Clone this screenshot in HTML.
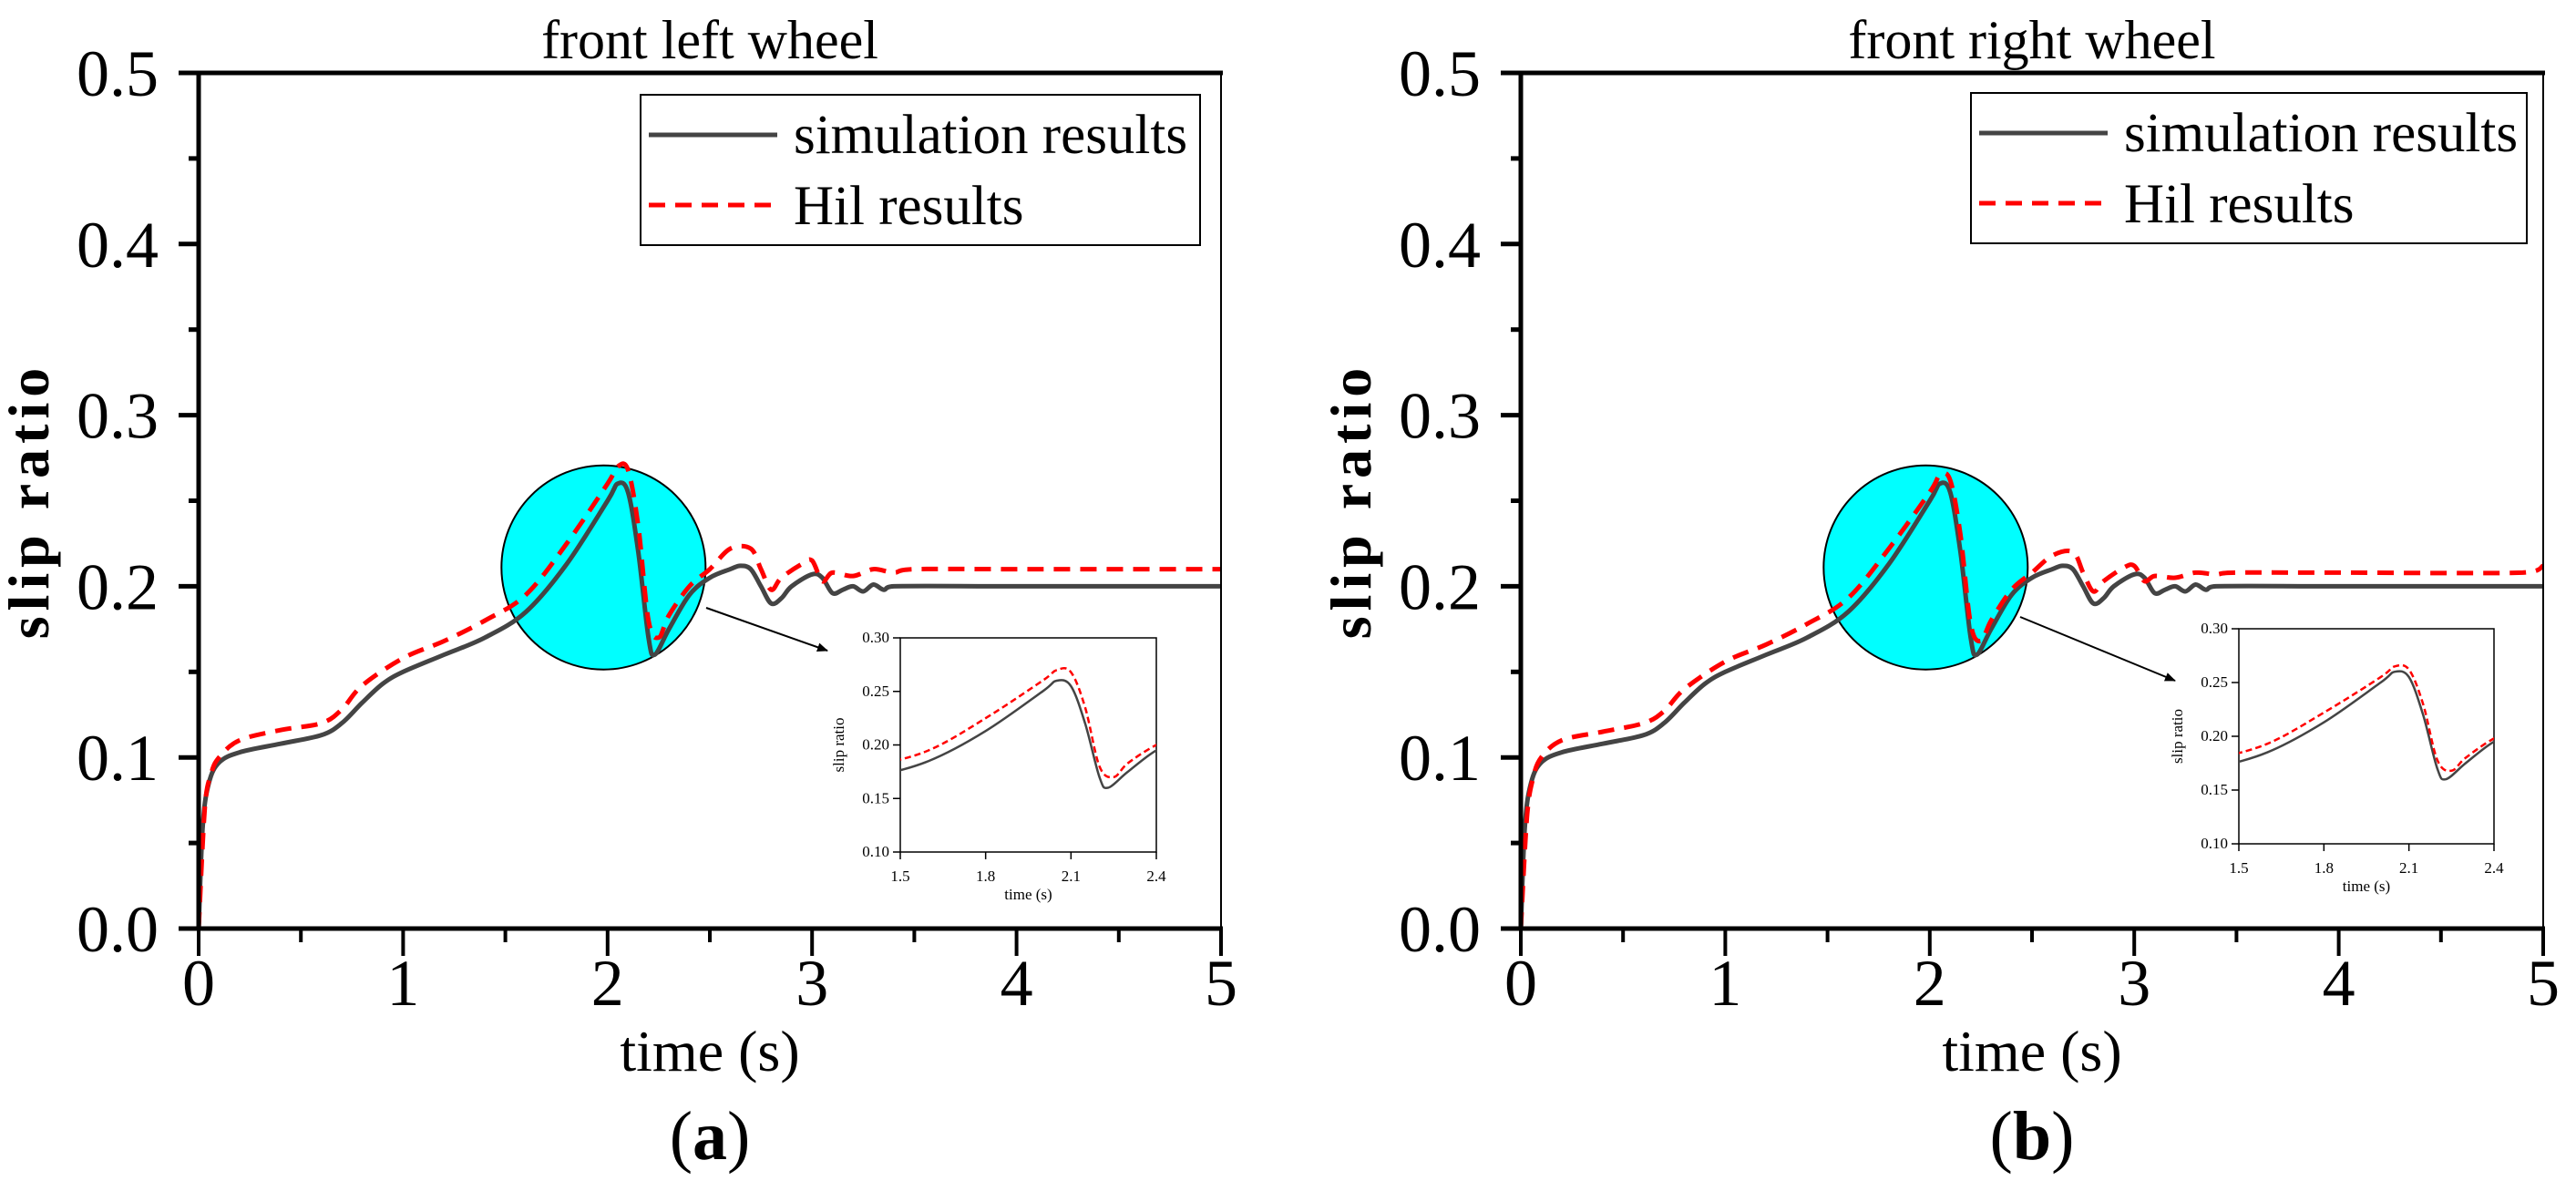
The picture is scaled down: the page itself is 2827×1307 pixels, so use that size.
<!DOCTYPE html>
<html><head><meta charset="utf-8"><style>
html,body{margin:0;padding:0;background:#fff;}
svg{display:block;font-family:"Liberation Serif",serif;}
</style></head><body>
<svg id="fig" width="2827" height="1307" viewBox="0 0 2827 1307" xmlns="http://www.w3.org/2000/svg"></svg>
<script>
const yTicks=[0,0.1,0.2,0.3,0.4,0.5];
const xTicks=[0,1,2,3,4,5];
const insetXTicks=[1.5,1.8,2.1,2.4];
const insetYTicks=[0.10,0.15,0.20,0.25,0.30];
const simTA=[0,0.02,0.05,0.1,0.2,0.4,0.6,0.7,0.8,0.9,1.0,1.2,1.4,1.6,1.8,2.0,2.05,2.1,2.15,2.2,2.23,2.3,2.4,2.5,2.6,2.65,2.7,2.75,2.8,2.85,2.9,3.0,3.05,3.1,3.15,3.2,3.25,3.3,3.35,3.4,4,5];
const simVA=[0,0.06,0.085,0.097,0.103,0.108,0.113,0.12,0.132,0.143,0.15,0.16,0.17,0.185,0.213,0.25,0.26,0.255,0.22,0.17,0.16,0.175,0.195,0.205,0.21,0.212,0.21,0.2,0.19,0.193,0.2,0.207,0.205,0.196,0.198,0.2,0.197,0.201,0.198,0.2,0.2,0.2];
const hilTA=[0,0.03,0.06,0.1,0.2,0.4,0.6,0.7,0.8,1.0,1.2,1.4,1.6,1.8,2.0,2.05,2.1,2.15,2.2,2.25,2.3,2.4,2.5,2.6,2.7,2.75,2.8,2.85,2.95,3.0,3.05,3.1,3.2,3.3,3.4,3.5,4,5];
const hilVA=[0,0.07,0.09,0.1,0.11,0.116,0.12,0.128,0.142,0.158,0.168,0.18,0.195,0.225,0.26,0.27,0.268,0.235,0.18,0.17,0.183,0.2,0.21,0.222,0.222,0.21,0.198,0.205,0.213,0.215,0.203,0.208,0.206,0.21,0.208,0.21,0.21,0.21];
const simTB=simTA;
const simVB=simVA;
const hilTB=[0,0.03,0.06,0.1,0.2,0.4,0.6,0.7,0.8,1.0,1.2,1.4,1.6,1.8,2.0,2.05,2.1,2.15,2.2,2.25,2.3,2.4,2.5,2.6,2.7,2.75,2.8,2.85,2.95,3.0,3.05,3.1,3.2,3.3,3.4,3.5,4,4.9,5];
const hilVB=[0,0.065,0.088,0.1,0.11,0.115,0.12,0.127,0.14,0.156,0.166,0.178,0.193,0.222,0.255,0.265,0.262,0.23,0.178,0.168,0.18,0.198,0.208,0.218,0.22,0.208,0.197,0.203,0.211,0.212,0.203,0.206,0.205,0.208,0.207,0.208,0.208,0.208,0.212];

const NS="http://www.w3.org/2000/svg";
const svg=document.getElementById('fig');
function el(tag,attrs,parent,text){const e=document.createElementNS(NS,tag);for(const k in attrs)e.setAttribute(k,attrs[k]);if(text!==undefined)e.textContent=text;(parent||svg).appendChild(e);return e;}

function path(ts,vs,fx,fy){
  const p=ts.map((t,i)=>[fx(t),fy(vs[i])]);
  let d='M'+p[0][0].toFixed(1)+','+p[0][1].toFixed(1);
  for(let i=0;i<p.length-1;i++){
    const p0=p[Math.max(0,i-1)],p1=p[i],p2=p[i+1],p3=p[Math.min(p.length-1,i+2)];
    const k=1/6;
    const c1=[p1[0]+(p2[0]-p0[0])*k,p1[1]+(p2[1]-p0[1])*k];
    const c2=[p2[0]-(p3[0]-p1[0])*k,p2[1]-(p3[1]-p1[1])*k];
    c1[0]=Math.min(Math.max(c1[0],p1[0]),p2[0]);c2[0]=Math.min(Math.max(c2[0],p1[0]),p2[0]);
    d+=' C'+c1[0].toFixed(1)+','+c1[1].toFixed(1)+' '+c2[0].toFixed(1)+','+c2[1].toFixed(1)+' '+p2[0].toFixed(1)+','+p2[1].toFixed(1);
  }
  return d;
}

function panel(id,L,R,T,B,title,letter,simT,simV,hilT,hilV,leg,inset,arrow){
  const g=el('g',{});
  
  
  const sx=t=>L+(t-0)/5*(R-L);
  const sy=v=>B-(v-0)/0.5*(B-T);
  const cid='clip'+id;
  const cp=el('clipPath',{id:cid},g);el('rect',{x:L,y:T,width:R-L,height:B-T},cp);
  const c=el('circle',{cx:sx(1.98),cy:sy(0.211),r:112,fill:'#00ffff',stroke:'#000','stroke-width':2},g);
  
  
  const sl=el('path',{d:path(simT,simV,sx,sy),fill:'none',stroke:'#444','stroke-width':5,'stroke-linejoin':'round','clip-path':'url(#'+cid+')'},g);
  
  
  const hl=el('path',{d:path(hilT,hilV,sx,sy),fill:'none',stroke:'#ff0000','stroke-width':5,'stroke-dasharray':'18,11','clip-path':'url(#'+cid+')'},g);
  
  
  const fr=el('rect',{x:L,y:T,width:R-L,height:B-T,fill:'none',stroke:'#000','stroke-width':2},g);
  
  
  el('line',{x1:L,y1:T,x2:L,y2:B+2,stroke:'#000','stroke-width':5},g);
  el('line',{x1:L-22,y1:B,x2:R+2,y2:B,stroke:'#000','stroke-width':5},g);
  el('line',{x1:L-22,y1:T,x2:R+2,y2:T,stroke:'#000','stroke-width':5},g);
  yTicks.forEach(v=>{
    el('line',{x1:L-22,y1:sy(v),x2:L,y2:sy(v),stroke:'#000','stroke-width':5},g);
    const t=el('text',{x:L-44,y:sy(v)+25,'font-size':72,'text-anchor':'end'},g,v.toFixed(1));
    
    
  });
  for(let v=0.05;v<0.5;v+=0.1){el('line',{x1:L-11,y1:sy(v),x2:L,y2:sy(v),stroke:'#000','stroke-width':5},g);}
  xTicks.forEach(v=>{
    el('line',{x1:sx(v),y1:B,x2:sx(v),y2:B+30,stroke:'#000','stroke-width':4},g);
    const t=el('text',{x:sx(v),y:1103,'font-size':72,'text-anchor':'middle'},g,String(v));
    
    
  });
  for(let v=0.5;v<5;v+=1){el('line',{x1:sx(v),y1:B,x2:sx(v),y2:B+15,stroke:'#000','stroke-width':4},g);}
  const tt=el('text',{x:(L+R)/2,y:64,'font-size':60,'text-anchor':'middle'},g,title);
  
  
  const xt=el('text',{x:(L+R)/2,y:1175,'font-size':64,'text-anchor':'middle'},g,'time (s)');
  
  
  const yt=el('text',{x:L-165,y:(T+B)/2,'font-size':64,'font-weight':'bold','letter-spacing':6,'text-anchor':'middle',transform:'rotate(-90 '+(L-165)+' '+((T+B)/2)+')'},g,'slip ratio');
  
  
  const lt=el('text',{x:(L+R)/2,y:1272,'font-size':76,'text-anchor':'middle'},g);
  
  
  el('tspan',{},lt,'(');el('tspan',{'font-weight':'bold'},lt,letter);el('tspan',{},lt,')');
  const lg=el('g',{},g);
  
  
  el('rect',{x:leg[0],y:leg[1],width:leg[2],height:leg[3],fill:'#fff',stroke:'#000','stroke-width':2},lg);
  el('line',{x1:leg[0]+9,y1:leg[1]+44,x2:leg[0]+150,y2:leg[1]+44,stroke:'#444','stroke-width':5},lg);
  const l1=el('text',{x:leg[0]+168,y:leg[1]+64,'font-size':61},lg,'simulation results');
  
  
  el('line',{x1:leg[0]+9,y1:leg[1]+121,x2:leg[0]+150,y2:leg[1]+121,stroke:'#f00','stroke-width':5,'stroke-dasharray':'18,11'},lg);
  const l2=el('text',{x:leg[0]+168,y:leg[1]+142,'font-size':61},lg,'Hil results');
  
  
  const ar=el('line',{x1:arrow[0],y1:arrow[1],x2:arrow[2],y2:arrow[3],stroke:'#000','stroke-width':2,'marker-end':'url(#arr)'},g);
  
  
  const [iL,iT,iR,iB]=inset;
  const ig=el('g',{},g);
  
  
  const ix=t=>iL+(t-1.5)/0.9*(iR-iL);
  const iy=v=>iB-(v-0.1)/0.2*(iB-iT);
  const icid='iclip'+id;
  const icp=el('clipPath',{id:icid},ig);el('rect',{x:iL,y:iT,width:iR-iL,height:iB-iT},icp);
  el('rect',{x:iL,y:iT,width:iR-iL,height:iB-iT,fill:'#fff',stroke:'#000','stroke-width':1.5},ig);
  el('path',{d:path(simT,simV,ix,iy),fill:'none',stroke:'#444','stroke-width':2.5,'clip-path':'url(#'+icid+')'},ig);
  el('path',{d:path(hilT,hilV,ix,iy),fill:'none',stroke:'#f00','stroke-width':2.5,'stroke-dasharray':'7,4','clip-path':'url(#'+icid+')'},ig);
  insetXTicks.forEach(v=>{el('line',{x1:ix(v),y1:iB,x2:ix(v),y2:iB+8,stroke:'#000','stroke-width':1.5},ig);
    el('text',{x:ix(v),y:iB+32,'font-size':17,'text-anchor':'middle'},ig,v.toFixed(1));});
  insetYTicks.forEach(v=>{el('line',{x1:iL-8,y1:iy(v),x2:iL,y2:iy(v),stroke:'#000','stroke-width':1.5},ig);
    el('text',{x:iL-12,y:iy(v)+5,'font-size':17,'text-anchor':'end'},ig,v.toFixed(2));});
  el('text',{x:(iL+iR)/2,y:iB+52,'font-size':17,'text-anchor':'middle'},ig,'time (s)');
  el('text',{x:iL-62,y:(iT+iB)/2,'font-size':17,'text-anchor':'middle',transform:'rotate(-90 '+(iL-62)+' '+((iT+iB)/2)+')'},ig,'slip ratio');
}
const defs=el('defs',{});
const mk=el('marker',{id:'arr',markerWidth:12,markerHeight:12,refX:11,refY:6,orient:'auto',markerUnits:'userSpaceOnUse'},defs);
el('path',{d:'M0,1 L12,6 L0,11 z',fill:'#000'},mk);
panel('a',218,1340,80,1019,'front left wheel','a',simTA,simVA,hilTA,hilVA,[703,104,614,165],[988,700,1269,935],[775,667,908,714]);
panel('b',1669,2791,80,1019,'front right wheel','b',simTB,simVB,hilTB,hilVB,[2163,102,610,165],[2457,690,2737,926],[2217,677,2387,747]);
</script>
</body></html>
